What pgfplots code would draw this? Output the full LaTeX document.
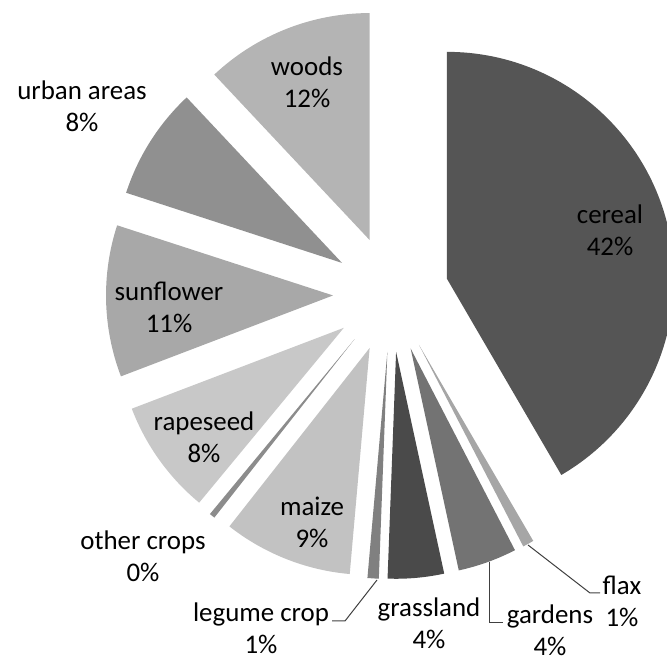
\documentclass[border=0pt]{standalone}
\usepackage{pgfplots}
\pgfplotsset{compat=1.18}
\usepackage{pgfplotstable}
\usepackage{fontspec}
\setmainfont{Carlito}
\definecolor{c0}{HTML}{555555}
\definecolor{c1}{HTML}{A6A6A6}
\definecolor{c2}{HTML}{737373}
\definecolor{c3}{HTML}{4A4A4A}
\definecolor{c4}{HTML}{808080}
\definecolor{c5}{HTML}{C2C2C2}
\definecolor{c6}{HTML}{8C8C8C}
\definecolor{c7}{HTML}{C8C8C8}
\definecolor{c8}{HTML}{A8A8A8}
\definecolor{c9}{HTML}{909090}
\definecolor{c10}{HTML}{B4B4B4}
\definecolor{leader}{HTML}{404040}
\pgfplotstableread{
name value
cereal 41.6
flax 0.8
gardens 4.2
grassland 4.0
legume 0.8
maize 9.2
other 0.4
rapeseed 8.2
sunflower 10.8
urban 8.0
woods 12.0
}\piedata
\begin{document}
\begin{tikzpicture}
\useasboundingbox (0,0) rectangle (667bp,661bp);
\begin{axis}[at={(0,0)}, anchor=south west, scale only axis,
  width=667bp, height=661bp, xmin=0, xmax=667, ymin=0, ymax=661,
  hide axis, clip=true]
\pgfplotstablegetrowsof{\piedata}
\pgfmathtruncatemacro\N{\pgfplotsretval-1}
\def\cum{0}
\pgfplotsforeachungrouped \i in {0,...,\N}{%
  \pgfplotstablegetelem{\i}{value}\of\piedata
  \let\v\pgfplotsretval
  \pgfmathsetmacro\a{90-3.6*\cum}%
  \pgfmathsetmacro\b{90-3.6*(\cum+\v)}%
  \pgfmathsetmacro\m{(\a+\b)/2}%
  \pgfmathsetmacro\px{391+58*cos(\m)}%
  \pgfmathsetmacro\py{367+58*sin(\m)}%
  \edef\temp{\noexpand\fill[c\i] (axis cs:\px,\py) -- ++(\a:227bp) arc[start angle=\a, end angle=\b, radius=227bp] -- cycle;}%
  \temp
  \pgfmathsetmacro\cum{\cum+\v}%
}
\end{axis}
\begin{scope}[every node/.style={align=center, font=\fontsize{27}{32}\selectfont, text=black, inner sep=0pt}, x=1bp, y=1bp]
\node at (307,578.5) {woods\\12\%};
\node at (82,555) {urban areas\\8\%};
\node at (169,353.5) {sunflower\\11\%};
\node at (610,431) {cereal\\42\%};
\node at (204,223.5) {rapeseed\\8\%};
\node at (312,139) {maize\\9\%};
\node at (143,105) {other crops\\0\%};
\node at (261,33) {legume crop\\1\%};
\node at (429,38) {grassland\\4\%};
\node at (550,31) {gardens\\4\%};
\node at (622,60) {flax\\1\%};
\draw[leader, line width=1bp] (528,116) -- (590,68) -- (600,68);
\draw[leader, line width=1bp] (489,99) -- (489,38) -- (503,38);
\draw[leader, line width=1bp] (377,81) -- (345,40) -- (332,40);
\end{scope}
\end{tikzpicture}
\end{document}
